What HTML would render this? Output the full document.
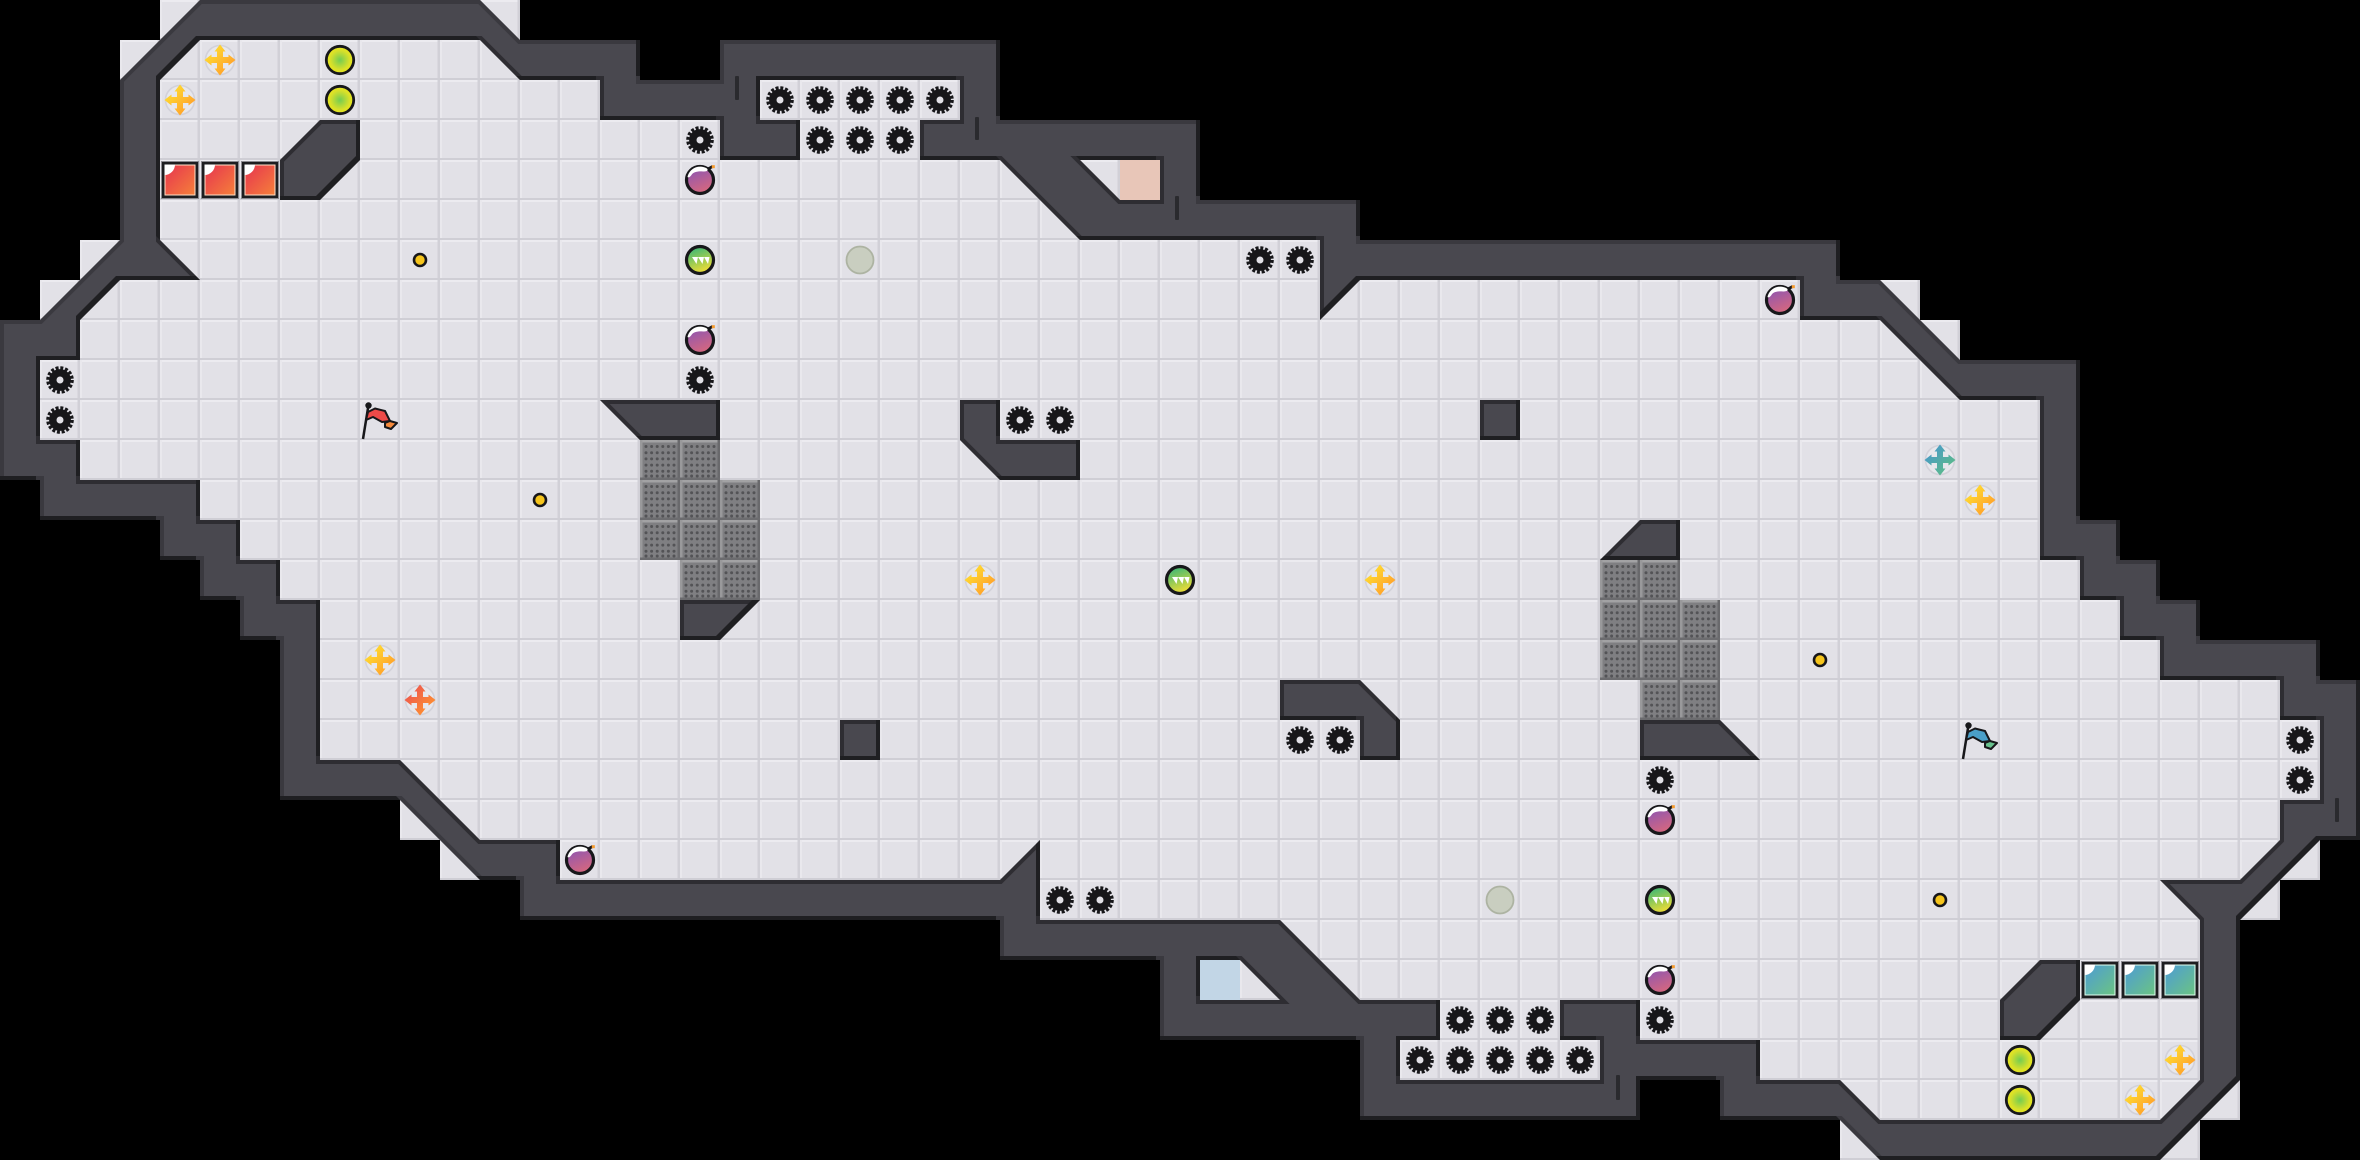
<!DOCTYPE html>
<html><head><meta charset="utf-8"><title>Map</title>
<style>html,body{margin:0;padding:0;background:#000}svg{display:block}</style></head>
<body>
<svg xmlns="http://www.w3.org/2000/svg" xmlns:xlink="http://www.w3.org/1999/xlink" width="2360" height="1160" viewBox="0 0 2360 1160">
<defs>
<pattern id="tile" width="40" height="40" patternUnits="userSpaceOnUse">
<rect width="40" height="40" fill="#e2e1e7"/>
<rect x="0" y="0" width="40" height="2" fill="#ecebf0"/>
<rect x="0" y="0" width="2" height="40" fill="#e9e8ed"/>
<rect x="37.5" y="0" width="2.5" height="40" fill="#d1d0d7"/>
<rect x="0" y="38" width="40" height="2" fill="#cfced5"/>
</pattern>
<g id="grate">
<rect width="40" height="40" fill="#7f7f82"/>
<rect width="40" height="2.5" fill="#a2a2a4"/>
<rect width="2.5" height="40" fill="#99999b"/>
<rect x="37.5" width="2.5" height="40" fill="#69696c"/>
<rect y="37.5" width="40" height="2.5" fill="#6c6c6f"/>
<path d="M6 6.5H36M6 12.7H36M6 18.9H36M6 25.1H36M6 31.3H36M6 36H36" fill="none" stroke="#535356" stroke-width="3" stroke-linecap="round" stroke-dasharray="0 5.6"/>
</g>
<path id="o" d="M0 480L0 320 40 320 120 240 120 80 200 0 480 0 520 40 640 40 640 80 720 80 720 40 1000 40 1000 120 1200 120 1200 200 1360 200 1360 240 1840 240 1840 280 1880 280 1960 360 2080 360 2080 520 2120 520 2120 560 2160 560 2160 600 2200 600 2200 640 2320 640 2320 680 2360 680 2360 840 2320 840 2240 920 2240 1080 2160 1160 1880 1160 1840 1120 1720 1120 1720 1080 1640 1080 1640 1120 1360 1120 1360 1040 1160 1040 1160 960 1000 960 1000 920 520 920 520 880 480 880 400 800 280 800 280 640 240 640 240 600 200 600 200 560 160 560 160 520 40 520 40 480Z"/>
<path id="i" d="M80 480L80 440 40 440 40 360 80 360 80 320 120 280 200 280 160 240 160 80 200 40 480 40 520 80 600 80 600 120 720 120 720 160 800 160 800 120 760 120 760 80 960 80 960 120 920 120 920 160 1000 160 1080 240 1320 240 1320 320 1360 280 1800 280 1800 320 1880 320 1960 400 2040 400 2040 560 2080 560 2080 600 2120 600 2120 640 2160 640 2160 680 2280 680 2280 720 2320 720 2320 800 2280 800 2280 840 2240 880 2160 880 2200 920 2200 1080 2160 1120 1880 1120 1840 1080 1760 1080 1760 1040 1640 1040 1640 1000 1560 1000 1560 1040 1600 1040 1600 1080 1400 1080 1400 1040 1440 1040 1440 1000 1360 1000 1280 920 1040 920 1040 840 1000 880 560 880 560 840 480 840 400 760 320 760 320 600 280 600 280 560 240 560 240 520 200 520 200 480Z
M1200 960L1240 960 1280 1000 1200 1000Z
M1160 200L1120 200 1080 160 1160 160Z
M280 160L320 120 360 120 360 160 320 200 280 200Z
M2080 1000L2040 1040 2000 1040 2000 1000 2040 960 2080 960Z
M600 400L720 400 720 440 640 440Z
M680 600L760 600 720 640 680 640Z
M1760 760L1640 760 1640 720 1720 720Z
M1680 560L1600 560 1640 520 1680 520Z
M960 400L1000 400 1000 440 1080 440 1080 480 1000 480 960 440Z
M1400 760L1360 760 1360 720 1280 720 1280 680 1360 680 1400 720Z
M1480 400H1520V440H1480Z
M840 720H880V760H840Z"/>
<path id="w" fill-rule="evenodd" d="M0 480L0 320 40 320 120 240 120 80 200 0 480 0 520 40 640 40 640 80 720 80 720 40 1000 40 1000 120 1200 120 1200 200 1360 200 1360 240 1840 240 1840 280 1880 280 1960 360 2080 360 2080 520 2120 520 2120 560 2160 560 2160 600 2200 600 2200 640 2320 640 2320 680 2360 680 2360 840 2320 840 2240 920 2240 1080 2160 1160 1880 1160 1840 1120 1720 1120 1720 1080 1640 1080 1640 1120 1360 1120 1360 1040 1160 1040 1160 960 1000 960 1000 920 520 920 520 880 480 880 400 800 280 800 280 640 240 640 240 600 200 600 200 560 160 560 160 520 40 520 40 480Z
M80 480L80 440 40 440 40 360 80 360 80 320 120 280 200 280 160 240 160 80 200 40 480 40 520 80 600 80 600 120 720 120 720 160 800 160 800 120 760 120 760 80 960 80 960 120 920 120 920 160 1000 160 1080 240 1320 240 1320 320 1360 280 1800 280 1800 320 1880 320 1960 400 2040 400 2040 560 2080 560 2080 600 2120 600 2120 640 2160 640 2160 680 2280 680 2280 720 2320 720 2320 800 2280 800 2280 840 2240 880 2160 880 2200 920 2200 1080 2160 1120 1880 1120 1840 1080 1760 1080 1760 1040 1640 1040 1640 1000 1560 1000 1560 1040 1600 1040 1600 1080 1400 1080 1400 1040 1440 1040 1440 1000 1360 1000 1280 920 1040 920 1040 840 1000 880 560 880 560 840 480 840 400 760 320 760 320 600 280 600 280 560 240 560 240 520 200 520 200 480Z
M1200 960L1240 960 1280 1000 1200 1000Z
M1160 200L1120 200 1080 160 1160 160Z
M280 160L320 120 360 120 360 160 320 200 280 200Z
M2080 1000L2040 1040 2000 1040 2000 1000 2040 960 2080 960Z
M600 400L720 400 720 440 640 440Z
M680 600L760 600 720 640 680 640Z
M1760 760L1640 760 1640 720 1720 720Z
M1680 560L1600 560 1640 520 1680 520Z
M960 400L1000 400 1000 440 1080 440 1080 480 1000 480 960 440Z
M1400 760L1360 760 1360 720 1280 720 1280 680 1360 680 1400 720Z
M1480 400H1520V440H1480Z
M840 720H880V760H840Z"/>
<mask id="band" maskUnits="userSpaceOnUse" x="0" y="0" width="2360" height="1160">
<rect width="2360" height="1160" fill="#fff"/>
<use xlink:href="#w" fill="#000" transform="translate(-4,-4)"/>
</mask>
<clipPath id="wall"><path clip-rule="evenodd" d="M0 480L0 320 40 320 120 240 120 80 200 0 480 0 520 40 640 40 640 80 720 80 720 40 1000 40 1000 120 1200 120 1200 200 1360 200 1360 240 1840 240 1840 280 1880 280 1960 360 2080 360 2080 520 2120 520 2120 560 2160 560 2160 600 2200 600 2200 640 2320 640 2320 680 2360 680 2360 840 2320 840 2240 920 2240 1080 2160 1160 1880 1160 1840 1120 1720 1120 1720 1080 1640 1080 1640 1120 1360 1120 1360 1040 1160 1040 1160 960 1000 960 1000 920 520 920 520 880 480 880 400 800 280 800 280 640 240 640 240 600 200 600 200 560 160 560 160 520 40 520 40 480Z
M80 480L80 440 40 440 40 360 80 360 80 320 120 280 200 280 160 240 160 80 200 40 480 40 520 80 600 80 600 120 720 120 720 160 800 160 800 120 760 120 760 80 960 80 960 120 920 120 920 160 1000 160 1080 240 1320 240 1320 320 1360 280 1800 280 1800 320 1880 320 1960 400 2040 400 2040 560 2080 560 2080 600 2120 600 2120 640 2160 640 2160 680 2280 680 2280 720 2320 720 2320 800 2280 800 2280 840 2240 880 2160 880 2200 920 2200 1080 2160 1120 1880 1120 1840 1080 1760 1080 1760 1040 1640 1040 1640 1000 1560 1000 1560 1040 1600 1040 1600 1080 1400 1080 1400 1040 1440 1040 1440 1000 1360 1000 1280 920 1040 920 1040 840 1000 880 560 880 560 840 480 840 400 760 320 760 320 600 280 600 280 560 240 560 240 520 200 520 200 480Z
M1200 960L1240 960 1280 1000 1200 1000Z
M1160 200L1120 200 1080 160 1160 160Z
M280 160L320 120 360 120 360 160 320 200 280 200Z
M2080 1000L2040 1040 2000 1040 2000 1000 2040 960 2080 960Z
M600 400L720 400 720 440 640 440Z
M680 600L760 600 720 640 680 640Z
M1760 760L1640 760 1640 720 1720 720Z
M1680 560L1600 560 1640 520 1680 520Z
M960 400L1000 400 1000 440 1080 440 1080 480 1000 480 960 440Z
M1400 760L1360 760 1360 720 1280 720 1280 680 1360 680 1400 720Z
M1480 400H1520V440H1480Z
M840 720H880V760H840Z"/></clipPath>
<g id="gear">
<circle r="7.2" fill="none" stroke="#17171a" stroke-width="7.4"/>
<circle r="11.8" fill="none" stroke="#17171a" stroke-width="4" stroke-dasharray="2.9 1.73"/>
</g>
<linearGradient id="rb" x1="0" y1="0" x2="1" y2="1"><stop offset="0" stop-color="#e7344f"/><stop offset="1" stop-color="#f5803a"/></linearGradient>
<linearGradient id="tb" x1="0" y1="0" x2="1" y2="1"><stop offset="0" stop-color="#4d9bd6"/><stop offset="1" stop-color="#6bc482"/></linearGradient>
<g id="redb">
<rect x="1" y="1" width="38" height="38" fill="#8a898f"/>
<rect x="2" y="2" width="36" height="36" fill="#1d1d20"/>
<rect x="5" y="5" width="30" height="30" fill="url(#rb)" stroke="#ffe0c8" stroke-width="1"/>
<path d="M4.500 4.500H15A10.500 10.500 0 0 1 4.500 15Z" fill="#fff"/>
</g>
<g id="tealb">
<rect x="1" y="1" width="38" height="38" fill="#8a898f"/>
<rect x="2" y="2" width="36" height="36" fill="#1d1d20"/>
<rect x="5" y="5" width="30" height="30" fill="url(#tb)" stroke="#e0fff0" stroke-width="1"/>
<path d="M4.500 4.500H15A10.500 10.500 0 0 1 4.500 15Z" fill="#fff"/>
</g>
<radialGradient id="lime"><stop offset="0" stop-color="#74cc52"/><stop offset=".7" stop-color="#d8e02a"/><stop offset="1" stop-color="#ece81a"/></radialGradient>
<circle id="limec" r="13.700" fill="url(#lime)" stroke="#17171a" stroke-width="2.800"/>
<circle id="coin" r="6" fill="#f6c51c" stroke="#17171a" stroke-width="2.600"/>
<circle id="pale" r="13.500" fill="#c9cec0" stroke="#adb3a2" stroke-width="1.800"/>
<linearGradient id="bo" x1=".25" y1="0" x2=".65" y2="1"><stop offset="0" stop-color="#8a55b4"/><stop offset="1" stop-color="#d9687c"/></linearGradient>
<g id="bomb">
<circle r="13.500" fill="url(#bo)" stroke="#17171a" stroke-width="3.200"/>
<path d="M-12.500 -3A13 13 0 0 1 7 -11.500C9 -9 6 -8.500 3 -8.500 -2 -9 -7 -8 -8.500 -5 -10 -3 -11.500 -2 -12.500 -3Z" fill="#fff"/>
<path d="M8 -11L12.500 -13.500" stroke="#17171a" stroke-width="2.800"/>
<rect x="11.800" y="-14.800" width="3" height="3" fill="#f59a2a"/>
</g>
<linearGradient id="gr" x1=".3" y1="0" x2=".7" y2="1"><stop offset=".05" stop-color="#42b874"/><stop offset=".95" stop-color="#f2de34"/></linearGradient>
<g id="orb">
<circle r="13.500" fill="url(#gr)" stroke="#17171a" stroke-width="3.200"/>
<path d="M-7.500 -3L-1.500 -3 -3 4ZM-1.500 -3L4.500 -3 3 4ZM4.500 -3L10 -3 8.500 4Z" fill="#fff" transform="translate(-.5,0)"/>
</g>
<circle id="ccirc" r="14.500" fill="#e7e7ec" stroke="#d2d1d9" stroke-width="1.600"/>
<path id="cr" d="M-3 -8.500L-5.500 -8.500 0 -15.500 5.500 -8.500 3 -8.500V-3H8.500V-5.500L15.500 0 8.500 5.500V3H3V8.500H5.500L0 15.500-5.500 8.500H-3V3H-8.500V5.500L-15.500 0-8.500 -5.500V-3H-3Z"/>
<linearGradient id="cy" x1="0" y1="0" x2="1" y2="1"><stop offset=".2" stop-color="#ffd92e"/><stop offset=".85" stop-color="#ff9e2c"/></linearGradient>
<linearGradient id="cre" x1="0" y1="0" x2="1" y2="1"><stop offset=".2" stop-color="#ee5a4c"/><stop offset=".85" stop-color="#ff9230"/></linearGradient>
<linearGradient id="cte" x1="0" y1="0" x2="1" y2="1"><stop offset=".2" stop-color="#4a9cc4"/><stop offset=".85" stop-color="#5cbb88"/></linearGradient>
<g id="cross"><use xlink:href="#ccirc"/><use xlink:href="#cr" fill="url(#cy)"/></g>
</defs>

<rect width="2360" height="1160" fill="#000"/>
<!-- floor -->
<use xlink:href="#o" fill="url(#tile)"/>
<g fill="url(#tile)">
<rect x="160" y="0" width="40" height="40"/><rect x="120" y="40" width="40" height="40"/><rect x="480" y="0" width="40" height="40"/>
<rect x="80" y="240" width="40" height="40"/><rect x="40" y="280" width="40" height="40"/>
<rect x="1880" y="280" width="40" height="40"/><rect x="1920" y="320" width="40" height="40"/>
<rect x="2160" y="1120" width="40" height="40"/><rect x="2200" y="1080" width="40" height="40"/><rect x="1840" y="1120" width="40" height="40"/>
<rect x="2240" y="880" width="40" height="40"/><rect x="2280" y="840" width="40" height="40"/>
<rect x="440" y="840" width="40" height="40"/><rect x="400" y="800" width="40" height="40"/>
</g>
<!-- coloured door tiles -->
<rect x="1120" y="160" width="40" height="40" fill="#e8c6b8"/>
<rect x="1200" y="960" width="40" height="40" fill="#c2d6e6"/>
<!-- grates -->
<use xlink:href="#grate" x="640" y="440"/><use xlink:href="#grate" x="680" y="440"/>
<use xlink:href="#grate" x="640" y="480"/><use xlink:href="#grate" x="680" y="480"/><use xlink:href="#grate" x="720" y="480"/>
<use xlink:href="#grate" x="640" y="520"/><use xlink:href="#grate" x="680" y="520"/><use xlink:href="#grate" x="720" y="520"/>
<use xlink:href="#grate" x="680" y="560"/><use xlink:href="#grate" x="720" y="560"/>
<use xlink:href="#grate" x="1640" y="680"/><use xlink:href="#grate" x="1680" y="680"/>
<use xlink:href="#grate" x="1600" y="600"/><use xlink:href="#grate" x="1640" y="600"/><use xlink:href="#grate" x="1680" y="600"/>
<use xlink:href="#grate" x="1600" y="640"/><use xlink:href="#grate" x="1640" y="640"/><use xlink:href="#grate" x="1680" y="640"/>
<use xlink:href="#grate" x="1600" y="560"/><use xlink:href="#grate" x="1640" y="560"/>
<!-- walls -->
<g clip-path="url(#wall)">
<use xlink:href="#w" fill="#49484f"/>
<use xlink:href="#o" fill="none" stroke="#3a393f" stroke-width="8"/>
<use xlink:href="#i" fill="none" stroke="#2e2d32" stroke-width="8"/>
<use xlink:href="#w" fill="#1f1f22" mask="url(#band)"/>
</g>
<!-- ticks -->
<g fill="#2a2a2e">
<rect x="735" y="76" width="4" height="24" rx="1"/>
<rect x="975" y="117" width="4" height="23" rx="1"/>
<rect x="1175" y="196" width="4" height="24" rx="1"/>
<rect x="1616" y="1075" width="4" height="25" rx="1"/>
<rect x="2335" y="798" width="4" height="24" rx="1"/>
</g>
<!-- blocks -->
<use xlink:href="#redb" x="160" y="160"/><use xlink:href="#redb" x="200" y="160"/><use xlink:href="#redb" x="240" y="160"/>
<use xlink:href="#tealb" x="2080" y="960"/><use xlink:href="#tealb" x="2120" y="960"/><use xlink:href="#tealb" x="2160" y="960"/>
<!-- gears -->
<use xlink:href="#gear" x="780" y="100"/><use xlink:href="#gear" x="820" y="100"/><use xlink:href="#gear" x="860" y="100"/><use xlink:href="#gear" x="900" y="100"/><use xlink:href="#gear" x="940" y="100"/>
<use xlink:href="#gear" x="820" y="140"/><use xlink:href="#gear" x="860" y="140"/><use xlink:href="#gear" x="900" y="140"/><use xlink:href="#gear" x="700" y="140"/>
<use xlink:href="#gear" x="1260" y="260"/><use xlink:href="#gear" x="1300" y="260"/><use xlink:href="#gear" x="700" y="380"/>
<use xlink:href="#gear" x="60" y="380"/><use xlink:href="#gear" x="60" y="420"/><use xlink:href="#gear" x="1020" y="420"/><use xlink:href="#gear" x="1060" y="420"/>
<use xlink:href="#gear" x="1580" y="1060"/><use xlink:href="#gear" x="1540" y="1060"/><use xlink:href="#gear" x="1500" y="1060"/><use xlink:href="#gear" x="1460" y="1060"/><use xlink:href="#gear" x="1420" y="1060"/>
<use xlink:href="#gear" x="1540" y="1020"/><use xlink:href="#gear" x="1500" y="1020"/><use xlink:href="#gear" x="1460" y="1020"/><use xlink:href="#gear" x="1660" y="1020"/>
<use xlink:href="#gear" x="1100" y="900"/><use xlink:href="#gear" x="1060" y="900"/><use xlink:href="#gear" x="1660" y="780"/>
<use xlink:href="#gear" x="2300" y="780"/><use xlink:href="#gear" x="2300" y="740"/><use xlink:href="#gear" x="1340" y="740"/><use xlink:href="#gear" x="1300" y="740"/>
<!-- bombs -->
<use xlink:href="#bomb" x="700" y="180"/><use xlink:href="#bomb" x="700" y="340"/><use xlink:href="#bomb" x="1780" y="300"/>
<use xlink:href="#bomb" x="580" y="860"/><use xlink:href="#bomb" x="1660" y="820"/><use xlink:href="#bomb" x="1660" y="980"/>
<!-- orbs -->
<use xlink:href="#orb" x="700" y="260"/><use xlink:href="#orb" x="1180" y="580"/><use xlink:href="#orb" x="1660" y="900"/>
<use xlink:href="#pale" x="860" y="260"/><use xlink:href="#pale" x="1500" y="900"/>
<use xlink:href="#limec" x="340" y="60"/><use xlink:href="#limec" x="340" y="100"/><use xlink:href="#limec" x="2020" y="1100"/><use xlink:href="#limec" x="2020" y="1060"/>
<use xlink:href="#coin" x="420" y="260"/><use xlink:href="#coin" x="540" y="500"/><use xlink:href="#coin" x="1940" y="900"/><use xlink:href="#coin" x="1820" y="660"/>
<!-- crosses -->
<use xlink:href="#cross" x="220" y="60"/><use xlink:href="#cross" x="180" y="100"/><use xlink:href="#cross" x="980" y="580"/><use xlink:href="#cross" x="1380" y="580"/>
<use xlink:href="#cross" x="380" y="660"/><use xlink:href="#cross" x="1980" y="500"/><use xlink:href="#cross" x="2180" y="1060"/><use xlink:href="#cross" x="2140" y="1100"/>
<g transform="translate(420,700)"><use xlink:href="#ccirc"/><use xlink:href="#cr" fill="url(#cre)"/></g>
<g transform="translate(1940,460)"><use xlink:href="#ccirc"/><use xlink:href="#cr" fill="url(#cte)"/></g>
<!-- flags -->
<g>
<path d="M363 439L368.500 405" stroke="#17171a" stroke-width="2.500" fill="none"/>
<circle cx="368.500" cy="405.500" r="3.200" fill="#17171a"/>
<path d="M368 412L375 408.500 385 411 390 421 382 422 373 417 366 420Z" fill="#ee4a48" stroke="#17171a" stroke-width="2" stroke-linejoin="round"/>
<path d="M385 423L390 421 397 423 391 429 385 427Z" fill="#f5893a" stroke="#17171a" stroke-width="2" stroke-linejoin="round"/>
</g>
<g transform="translate(1600,320)">
<path d="M363 439L368.500 405" stroke="#17171a" stroke-width="2.500" fill="none"/>
<circle cx="368.500" cy="405.500" r="3.200" fill="#17171a"/>
<path d="M368 412L375 408.500 385 411 390 421 382 422 373 417 366 420Z" fill="#4a9fc8" stroke="#17171a" stroke-width="2" stroke-linejoin="round"/>
<path d="M385 423L390 421 397 423 391 429 385 427Z" fill="#66c08c" stroke="#17171a" stroke-width="2" stroke-linejoin="round"/>
</g>
</svg>
</body></html>
